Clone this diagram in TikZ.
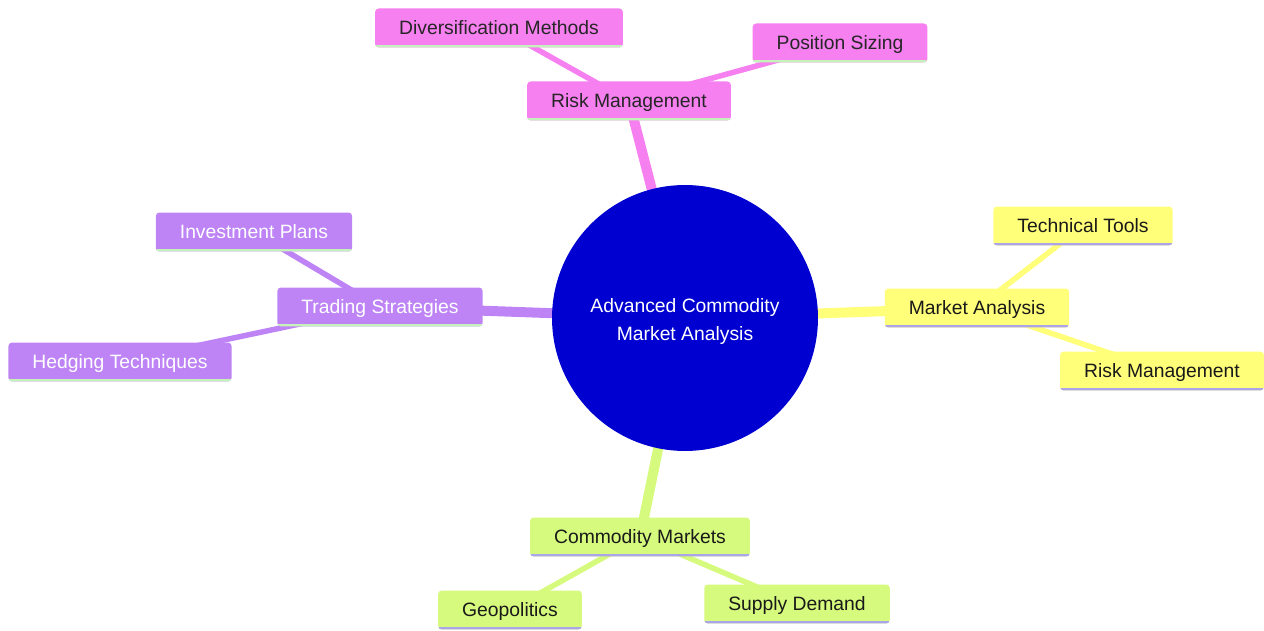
\documentclass[tikz,border=0pt]{standalone}
\usepackage{fontspec}
\setmainfont{Liberation Sans}
\usetikzlibrary{backgrounds}

\definecolor{rootblue}{RGB}{0,0,208}
\definecolor{riskpink}{RGB}{246,128,240}
\definecolor{tradepurple}{RGB}{190,132,246}
\definecolor{marketyellow}{RGB}{255,255,122}
\definecolor{commgreen}{RGB}{214,250,125}
\definecolor{linegreen}{RGB}{196,242,186}
\definecolor{linelav}{RGB}{172,164,232}

\tikzset{
    topic/.style={rectangle, rounded corners=2pt, inner xsep=0.48cm, inner ysep=0pt,
        minimum height=0.78cm, text height=0.74em, text depth=0.04em,
        font=\fontsize{11}{13.5}\selectfont},
    underline/.style={path picture={\draw[#1, line width=0.1cm]
        (path picture bounding box.south west) -- (path picture bounding box.south east);}},
    pinknode/.style={topic, fill=riskpink, text=black!85, underline=linegreen},
    purplenode/.style={topic, fill=tradepurple, text=white, underline=linegreen},
    yellownode/.style={topic, fill=marketyellow, text=black!90, underline=linelav},
    greennode/.style={topic, fill=commgreen, text=black!90, underline=linelav},
    mainlink/.style={line width=0.2cm, draw=#1},
    sublink/.style={line width=0.11cm, draw=#1}
}

\begin{document}
\begin{tikzpicture}[x=0.02cm, y=-0.02cm]

        \useasboundingbox (0,0) rectangle (1264,631);

        % root
        \node [circle, fill=rootblue, text=white, minimum size=5.32cm, align=center,
               font=\fontsize{11}{16.5}\selectfont] (root) at (685,318)
               {\raisebox{-0.07cm}[\height][\depth]{\shortstack{Advanced Commodity\\[0.11cm]Market Analysis}}};

        % risk management
        \node [pinknode] (risk) at (629,101) {Risk Management};
        \node [pinknode] (divers) at (499,28) {Diversification Methods};
        \node [pinknode] (sizing) at (840,43) {Position Sizing};

        % trading strategies
        \node [purplenode] (trading) at (380,307) {Trading Strategies};
        \node [purplenode] (invest) at (254,232) {Investment Plans};
        \node [purplenode] (hedging) at (120,362) {Hedging Techniques};

        % market analysis
        \node [yellownode] (market) at (977,308) {Market Analysis};
        \node [yellownode] (technical) at (1083,226) {Technical Tools};
        \node [yellownode] (mrisk) at (1162,371) {Risk Management};

        % commodity markets
        \node [greennode] (commodity) at (640,537) {Commodity Markets};
        \node [greennode] (geo) at (510,610) {Geopolitics};
        \node [greennode] (supply) at (797,604) {Supply Demand};

        % links
        \begin{scope}[on background layer]
            \draw [mainlink=riskpink] (root.center) -- (risk.center);
            \draw [sublink=riskpink] (risk.center) -- (divers.center);
            \draw [sublink=riskpink] (risk.center) -- (sizing.center);

            \draw [mainlink=tradepurple] (root.center) -- (trading.center);
            \draw [sublink=tradepurple] (trading.center) -- (invest.center);
            \draw [sublink=tradepurple] (trading.center) -- (hedging.center);

            \draw [mainlink=marketyellow] (root.center) -- (market.center);
            \draw [sublink=marketyellow] (market.center) -- (technical.center);
            \draw [sublink=marketyellow] (market.center) -- (mrisk.center);

            \draw [mainlink=commgreen] (root.center) -- (commodity.center);
            \draw [sublink=commgreen] (commodity.center) -- (geo.center);
            \draw [sublink=commgreen] (commodity.center) -- (supply.center);
        \end{scope}

    \end{tikzpicture}
\end{document}
